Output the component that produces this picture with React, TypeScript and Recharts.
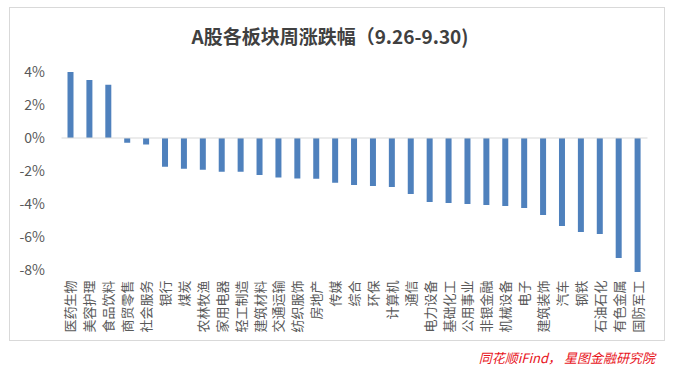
import { BarChart, Bar, XAxis, YAxis, ReferenceLine } from 'recharts'

const sectors = [
  '医药生物', '美容护理', '食品饮料', '商贸零售', '社会服务', '银行', '煤炭', '农林牧渔',
  '家用电器', '轻工制造', '建筑材料', '交通运输', '纺织服饰', '房地产', '传媒', '综合',
  '环保', '计算机', '通信', '电力设备', '基础化工', '公用事业', '非银金融', '机械设备',
  '电子', '建筑装饰', '汽车', '钢铁', '石油石化', '有色金属', '国防军工',
]

const weeklyChange = [
  4.0, 3.52, 3.23, -0.28, -0.4, -1.74, -1.86, -1.92,
  -2.04, -2.05, -2.24, -2.4, -2.46, -2.47, -2.71, -2.85,
  -2.91, -2.97, -3.39, -3.88, -3.94, -4.0, -4.06, -4.12,
  -4.24, -4.67, -5.33, -5.7, -5.82, -7.27, -8.12,
]

const yTicks = [-8, -6, -4, -2, 0, 2, 4]

const data = sectors.map((name, i) => ({ name, value: weeklyChange[i] }))

const font = '"Noto Sans CJK SC", "Noto Sans", sans-serif'

function SectorTick({ x, y, payload }: any) {
  return (
    <text
      x={x}
      y={y}
      transform={`rotate(-90, ${x}, ${y})`}
      textAnchor="end"
      dy="0.35em"
      fill="#595959"
      fontSize={13}
      fontFamily={font}
    >
      {payload.value}
    </text>
  )
}

function App() {
  return (
    <div style={{ position: 'absolute', left: 0, top: 0, width: 673, height: 372, background: '#fff' }}>
      <div
        style={{
          position: 'absolute',
          left: 9,
          top: 7,
          width: 656,
          height: 334,
          border: '1px solid #d9d9d9',
          boxSizing: 'border-box',
        }}
      />
      <div
        style={{
          position: 'absolute',
          left: 0,
          width: 660,
          top: 23,
          textAlign: 'center',
          fontFamily: font,
          fontWeight: 700,
          fontSize: 19,
          color: '#404040',
          lineHeight: '26px',
        }}
      >
        A股各板块周涨跌幅（9.26-9.30)
      </div>
      <div style={{ position: 'absolute', left: 0, top: 0 }}>
        <BarChart
          width={673}
          height={372}
          data={data}
          margin={{ top: 72, right: 25.5, left: 0, bottom: 39.5 }}
        >
          <XAxis
            dataKey="name"
            interval={0}
            axisLine={false}
            tickLine={false}
            tickSize={0}
            tickMargin={8}
            height={60}
            tick={<SectorTick />}
          />
          <YAxis
            domain={[-8.15, 4]}
            ticks={yTicks}
            allowDataOverflow
            axisLine={false}
            tickLine={false}
            tickSize={0}
            tickMargin={16.5}
            width={61.5}
            tickFormatter={(v: number) => `${v}%`}
            tick={{ fill: '#595959', fontSize: 14, fontFamily: font }}
          />
          <ReferenceLine y={0} stroke="#d9d9d9" strokeWidth={1} />
          <Bar dataKey="value" fill="#4f81bd" barSize={6} isAnimationActive={false} />
        </BarChart>
      </div>
      <div
        style={{
          position: 'absolute',
          right: 18,
          top: 349,
          fontFamily: font,
          fontStyle: 'italic',
          fontSize: 13,
          color: '#e8141c',
          lineHeight: '18px',
        }}
      >
        同花顺iFind， 星图金融研究院
      </div>
    </div>
  )
}

export default App
